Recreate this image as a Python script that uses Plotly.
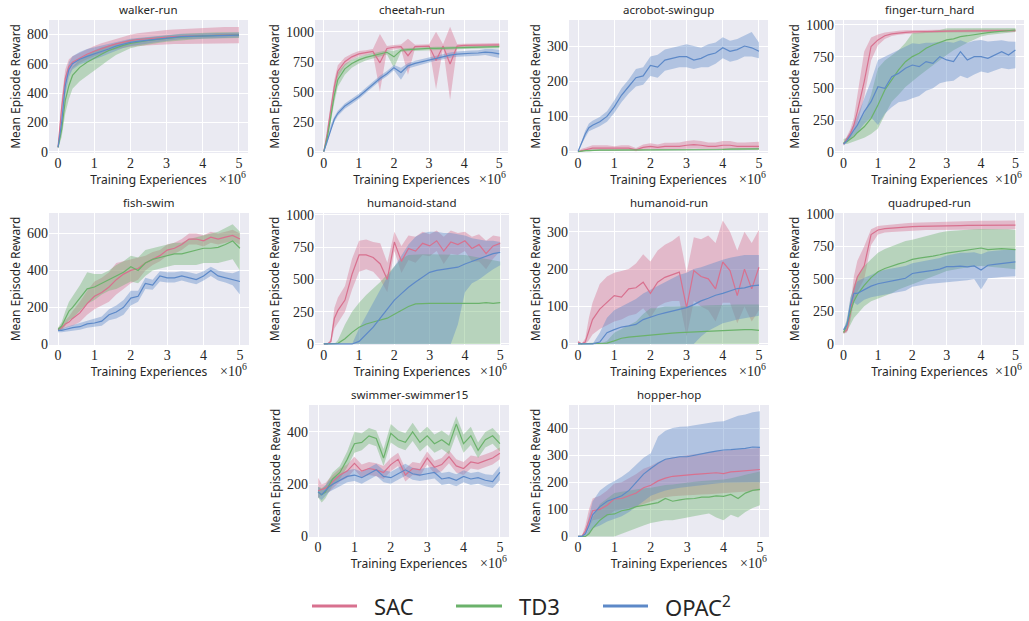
import plotly.graph_objects as go

W, H = 1029, 621

# ---------------- data (x in units of 1e6 training experiences) ----------------
X = [0, 0.1, 0.2, 0.3, 0.4, 0.6, 0.8, 1.0, 1.2, 1.4, 1.6, 1.8, 2.0, 2.2, 2.4,
     2.6, 2.8, 3.0, 3.2, 3.4, 3.6, 3.8, 4.0, 4.2, 4.4, 4.6, 4.8, 5.0]
X_TICKS = [0, 1, 2, 3, 4, 5]
ALGOS = ["SAC", "TD3", "OPAC<sup>2</sup>"]
TASKS = ["walker-run", "cheetah-run", "acrobot-swingup", "finger-turn_hard",
         "fish-swim", "humanoid-stand", "humanoid-run", "quadruped-run",
         "swimmer-swimmer15", "hopper-hop"]

walker_sac = [30, 300, 500, 580, 610, 640, 665, 685, 705, 720, 735, 748, 757, 765, 770, 775, 780, 783, 785, 787, 789, 790, 792, 793, 794, 795, 795, 795]
walker_sac_lo = [20, 240, 440, 530, 570, 605, 630, 650, 670, 685, 698, 708, 715, 720, 724, 727, 730, 732, 734, 735, 737, 738, 739, 740, 740, 740, 740, 740]
walker_sac_hi = [40, 360, 560, 630, 650, 675, 700, 720, 740, 755, 770, 785, 797, 807, 814, 820, 826, 830, 834, 837, 840, 842, 844, 846, 848, 850, 850, 850]
walker_td3 = [30, 150, 350, 450, 520, 575, 610, 640, 665, 690, 710, 725, 738, 748, 755, 762, 768, 773, 778, 782, 785, 788, 790, 792, 793, 794, 795, 795]
walker_td3_lo = [20, 100, 260, 360, 430, 480, 520, 555, 590, 625, 660, 685, 705, 718, 728, 736, 743, 750, 755, 760, 764, 767, 770, 772, 773, 774, 775, 775]
walker_td3_hi = [40, 200, 430, 530, 580, 630, 660, 690, 710, 725, 740, 755, 765, 772, 778, 784, 790, 795, 800, 803, 806, 809, 811, 813, 814, 815, 815, 815]
walker_opac = [30, 200, 450, 560, 600, 630, 650, 665, 680, 700, 720, 735, 745, 752, 758, 765, 772, 778, 782, 785, 787, 788, 790, 791, 792, 793, 794, 795]
walker_opac_lo = [20, 150, 390, 510, 560, 595, 615, 630, 648, 668, 690, 707, 720, 728, 735, 743, 750, 757, 762, 766, 769, 771, 773, 775, 776, 777, 778, 779]
walker_opac_hi = [40, 250, 510, 610, 650, 680, 700, 712, 722, 735, 750, 763, 770, 776, 781, 787, 793, 798, 802, 804, 805, 806, 807, 808, 809, 810, 811, 812]

cheetah_sac = [0, 150, 350, 540, 670, 750, 790, 815, 825, 835, 740, 860, 870, 875, 800, 875, 878, 880, 760, 880, 730, 880, 885, 886, 887, 888, 890, 890]
cheetah_sac_lo = [0, 110, 290, 480, 620, 715, 765, 792, 805, 815, 500, 840, 852, 858, 640, 860, 862, 865, 520, 862, 430, 862, 868, 870, 872, 873, 875, 875]
cheetah_sac_hi = [0, 190, 410, 600, 720, 785, 815, 838, 845, 855, 980, 880, 888, 892, 940, 890, 893, 895, 1000, 895, 1040, 897, 900, 902, 903, 904, 905, 905]
cheetah_td3 = [0, 120, 290, 470, 600, 690, 735, 765, 785, 800, 815, 828, 790, 845, 850, 855, 858, 860, 861, 862, 864, 866, 868, 870, 871, 872, 874, 875]
cheetah_td3_lo = [0, 90, 240, 410, 540, 640, 700, 735, 760, 778, 795, 810, 700, 830, 836, 842, 845, 848, 849, 850, 852, 854, 856, 858, 859, 860, 862, 862]
cheetah_td3_hi = [0, 150, 340, 530, 660, 730, 765, 790, 808, 822, 835, 846, 840, 860, 864, 868, 871, 873, 874, 875, 877, 879, 881, 883, 884, 885, 887, 888]
cheetah_opac = [0, 90, 200, 270, 320, 380, 420, 460, 510, 560, 610, 650, 700, 660, 715, 735, 750, 765, 780, 795, 805, 812, 818, 820, 822, 830, 825, 815]
cheetah_opac_lo = [0, 70, 178, 248, 298, 358, 398, 438, 488, 538, 588, 628, 678, 600, 693, 713, 728, 743, 758, 773, 783, 790, 796, 798, 800, 805, 790, 780]
cheetah_opac_hi = [0, 110, 222, 292, 342, 402, 442, 482, 532, 582, 632, 672, 722, 700, 737, 757, 772, 787, 802, 817, 827, 834, 840, 842, 844, 855, 855, 850]

acrobot_sac = [0, 3, 5, 8, 10, 10, 10, 8, 10, 10, 5, 12, 15, 12, 15, 15, 15, 18, 20, 18, 15, 15, 18, 18, 15, 15, 15, 15]
acrobot_sac_lo = [0, 0, 1, 3, 4, 4, 4, 3, 4, 4, 1, 5, 7, 5, 7, 7, 6, 8, 9, 8, 6, 6, 8, 8, 6, 6, 6, 6]
acrobot_sac_hi = [0, 8, 11, 15, 18, 18, 18, 15, 18, 18, 10, 20, 24, 20, 25, 25, 26, 30, 32, 30, 26, 26, 30, 30, 26, 26, 28, 28]
acrobot_td3 = [0, 2, 3, 3, 4, 4, 4, 4, 4, 4, 4, 4, 5, 5, 5, 5, 5, 5, 6, 6, 6, 6, 6, 7, 7, 7, 7, 8]
acrobot_td3_lo = [0, 1, 1, 1, 2, 2, 2, 2, 2, 2, 2, 2, 3, 3, 3, 3, 3, 3, 4, 4, 4, 4, 4, 4, 4, 4, 4, 5]
acrobot_td3_hi = [0, 3, 5, 5, 6, 6, 6, 6, 6, 6, 6, 6, 7, 7, 7, 7, 7, 7, 8, 8, 8, 8, 9, 10, 10, 10, 10, 11]
acrobot_opac = [0, 25, 50, 68, 75, 85, 100, 127, 160, 185, 210, 215, 245, 240, 260, 265, 270, 270, 260, 265, 275, 280, 295, 285, 290, 300, 295, 285]
acrobot_opac_lo = [0, 18, 40, 58, 62, 72, 85, 110, 140, 165, 185, 190, 215, 210, 230, 235, 240, 240, 235, 240, 240, 250, 265, 255, 260, 270, 270, 265]
acrobot_opac_hi = [0, 32, 60, 80, 88, 98, 115, 145, 180, 205, 235, 240, 270, 275, 290, 295, 300, 305, 300, 295, 305, 310, 325, 315, 320, 330, 340, 310]

finger_sac = [60, 100, 145, 210, 316, 553, 830, 882, 915, 930, 938, 942, 945, 945, 948, 950, 950, 951, 952, 952, 953, 953, 953, 954, 954, 955, 955, 955]
finger_sac_lo = [50, 80, 110, 160, 220, 430, 720, 840, 890, 912, 922, 928, 932, 932, 936, 938, 938, 940, 940, 941, 942, 942, 942, 943, 943, 944, 944, 944]
finger_sac_hi = [70, 120, 180, 270, 450, 790, 900, 925, 940, 950, 955, 958, 960, 960, 962, 963, 963, 963, 964, 964, 965, 965, 965, 965, 966, 966, 966, 966]
finger_td3 = [70, 80, 100, 120, 150, 197, 263, 368, 487, 566, 645, 710, 750, 776, 816, 842, 860, 882, 890, 908, 915, 925, 934, 940, 945, 950, 955, 960]
finger_td3_lo = [60, 60, 70, 80, 90, 110, 140, 184, 290, 395, 450, 510, 553, 600, 640, 680, 720, 763, 800, 830, 860, 885, 908, 920, 930, 935, 940, 945]
finger_td3_hi = [100, 110, 130, 160, 210, 300, 450, 658, 720, 763, 800, 860, 934, 940, 945, 950, 960, 973, 973, 973, 973, 973, 973, 973, 975, 975, 975, 975]
finger_opac = [60, 90, 130, 170, 210, 316, 395, 513, 500, 592, 618, 658, 684, 671, 711, 697, 750, 724, 711, 789, 724, 750, 750, 737, 763, 789, 763, 803]
finger_opac_lo = [50, 70, 100, 130, 150, 220, 270, 210, 300, 350, 390, 400, 421, 440, 480, 500, 540, 553, 560, 600, 580, 610, 632, 620, 640, 660, 650, 658]
finger_opac_hi = [70, 110, 160, 220, 280, 420, 560, 724, 750, 780, 800, 830, 855, 850, 860, 860, 868, 868, 860, 880, 860, 875, 882, 870, 875, 880, 870, 868]

fish_sac = [80, 90, 110, 120, 140, 170, 220, 260, 280, 310, 350, 380, 400, 410, 440, 460, 480, 510, 520, 540, 570, 570, 560, 580, 570, 580, 590, 570]
fish_sac_lo = [70, 75, 90, 95, 100, 120, 160, 190, 210, 230, 270, 300, 330, 350, 400, 430, 450, 480, 490, 510, 540, 540, 530, 550, 540, 550, 560, 540]
fish_sac_hi = [90, 105, 130, 150, 180, 230, 290, 340, 360, 390, 440, 450, 460, 470, 480, 500, 510, 540, 550, 570, 600, 600, 590, 610, 600, 610, 620, 600]
fish_td3 = [80, 100, 140, 180, 200, 250, 300, 310, 330, 350, 370, 390, 420, 400, 440, 460, 470, 480, 490, 490, 500, 510, 520, 520, 525, 540, 560, 520]
fish_td3_lo = [70, 80, 100, 130, 140, 180, 220, 240, 270, 290, 300, 320, 340, 330, 370, 400, 410, 420, 430, 430, 430, 430, 440, 440, 440, 450, 460, 400]
fish_td3_hi = [90, 120, 180, 230, 260, 320, 390, 380, 380, 400, 430, 450, 480, 470, 510, 520, 530, 540, 550, 550, 570, 580, 590, 600, 610, 630, 650, 610]
fish_opac = [75, 75, 80, 85, 90, 95, 110, 115, 125, 160, 175, 200, 250, 260, 330, 320, 370, 360, 360, 370, 360, 350, 370, 400, 370, 360, 350, 340]
fish_opac_lo = [65, 65, 68, 72, 75, 78, 90, 95, 100, 130, 140, 160, 210, 230, 300, 295, 340, 335, 335, 345, 335, 325, 345, 370, 345, 335, 320, 270]
fish_opac_hi = [85, 85, 92, 98, 105, 115, 130, 140, 150, 190, 210, 240, 290, 290, 360, 350, 395, 390, 390, 395, 390, 380, 395, 420, 400, 390, 385, 400]

hstand_sac = [0, 0, 20, 200, 260, 340, 540, 690, 690, 670, 620, 500, 790, 640, 740, 720, 780, 760, 800, 720, 790, 770, 800, 740, 770, 700, 760, 780]
hstand_sac_lo = [0, 0, 0, 120, 170, 250, 420, 560, 580, 560, 500, 400, 720, 550, 650, 630, 690, 680, 720, 620, 700, 690, 720, 640, 640, 580, 660, 720]
hstand_sac_hi = [0, 0, 40, 280, 360, 450, 660, 800, 810, 790, 780, 630, 870, 760, 840, 830, 870, 850, 880, 830, 880, 860, 870, 830, 850, 800, 840, 830]
hstand_td3 = [0, 0, 0, 0, 5, 40, 90, 130, 155, 170, 185, 200, 230, 260, 290, 310, 315, 315, 315, 315, 315, 315, 310, 315, 315, 320, 315, 320]
hstand_td3_lo = [0, 0, 0, 0, 0, 0, 0, 0, 0, 0, 0, 0, 0, 0, 0, 0, 0, 0, 0, 0, 0, 0, 0, 0, 0, 0, 0, 0]
hstand_td3_hi = [0, 0, 0, 0, 30, 150, 250, 320, 380, 430, 480, 540, 600, 660, 690, 695, 695, 695, 695, 695, 690, 690, 690, 680, 670, 660, 650, 640]
hstand_opac = [0, 0, 0, 0, 0, 0, 0, 20, 75, 130, 200, 270, 340, 390, 440, 480, 520, 555, 570, 580, 585, 595, 620, 640, 660, 680, 700, 710]
hstand_opac_lo = [0, 0, 0, 0, 0, 0, 0, 0, 0, 0, 0, 0, 0, 0, 0, 0, 0, 0, 0, 0, 0, 150, 400, 470, 500, 540, 580, 610]
hstand_opac_hi = [0, 0, 0, 0, 0, 0, 0, 120, 220, 320, 420, 520, 600, 680, 770, 830, 860, 870, 870, 860, 860, 850, 840, 820, 810, 800, 800, 790]

hrun_sac = [5, 0, 5, 35, 65, 93, 110, 129, 125, 147, 150, 165, 135, 165, 178, 185, 192, 97, 196, 180, 174, 147, 219, 196, 129, 200, 147, 205]
hrun_sac_lo = [0, 0, 0, 10, 25, 40, 50, 60, 65, 75, 80, 95, 70, 100, 110, 115, 115, 20, 115, 100, 90, 60, 110, 110, 55, 100, 60, 90]
hrun_sac_hi = [10, 0, 15, 70, 110, 160, 180, 190, 195, 200, 215, 240, 220, 250, 265, 275, 290, 190, 285, 280, 290, 270, 330, 300, 250, 300, 270, 305]
hrun_td3 = [0, 0, 0, 0, 0, 0, 2, 8, 15, 18, 20, 22, 25, 26, 28, 29, 30, 31, 32, 33, 35, 36, 36, 37, 38, 38, 38, 36]
hrun_td3_lo = [0, 0, 0, 0, 0, 0, 0, 0, 0, 0, 0, 0, 0, 0, 0, 0, 0, 0, 0, 0, 0, 0, 0, 0, 0, 0, 0, 0]
hrun_td3_hi = [0, 0, 0, 0, 0, 0, 8, 30, 40, 50, 60, 80, 95, 95, 100, 100, 100, 100, 100, 102, 103, 104, 105, 105, 105, 105, 105, 105]
hrun_opac = [0, 0, 0, 0, 0, 5, 30, 38, 45, 48, 52, 65, 72, 78, 83, 88, 93, 97, 105, 115, 122, 130, 135, 142, 148, 150, 155, 157]
hrun_opac_lo = [0, 0, 0, 0, 0, 0, 0, 0, 0, 0, 0, 0, 0, 0, 0, 0, 0, 0, 0, 20, 35, 45, 55, 60, 65, 70, 72, 75]
hrun_opac_hi = [0, 0, 0, 0, 0, 30, 70, 90, 100, 110, 120, 135, 145, 155, 165, 175, 185, 190, 200, 205, 212, 220, 225, 230, 235, 238, 238, 238]

quad_sac = [90, 110, 240, 420, 515, 600, 840, 875, 885, 890, 895, 898, 900, 902, 904, 905, 906, 907, 908, 909, 910, 910, 910, 911, 912, 912, 912, 912]
quad_sac_lo = [80, 90, 180, 330, 400, 500, 760, 840, 855, 860, 865, 868, 870, 872, 874, 875, 876, 877, 878, 879, 880, 880, 880, 880, 880, 880, 880, 880]
quad_sac_hi = [100, 130, 300, 520, 640, 750, 880, 905, 912, 918, 922, 926, 930, 932, 934, 935, 936, 937, 938, 940, 942, 944, 945, 946, 947, 948, 948, 948]
quad_td3 = [90, 150, 250, 330, 380, 450, 510, 555, 580, 600, 615, 630, 650, 660, 665, 675, 685, 698, 705, 712, 720, 730, 737, 725, 730, 732, 728, 724]
quad_td3_lo = [80, 100, 150, 200, 230, 290, 330, 350, 370, 390, 420, 440, 460, 480, 500, 520, 540, 560, 570, 580, 590, 595, 600, 595, 590, 585, 580, 575]
quad_td3_hi = [100, 200, 350, 450, 520, 600, 650, 700, 730, 750, 770, 790, 800, 815, 830, 845, 855, 865, 870, 875, 878, 880, 882, 882, 882, 882, 880, 875]
quad_opac = [110, 150, 300, 390, 390, 420, 445, 463, 475, 485, 495, 505, 542, 550, 555, 565, 575, 594, 595, 598, 592, 600, 568, 605, 612, 618, 625, 630]
quad_opac_lo = [100, 120, 240, 320, 300, 340, 360, 365, 380, 390, 400, 410, 440, 450, 460, 470, 475, 480, 480, 485, 490, 500, 420, 505, 510, 515, 520, 520]
quad_opac_hi = [120, 180, 360, 430, 480, 510, 530, 555, 570, 580, 590, 600, 620, 630, 640, 650, 660, 680, 690, 700, 700, 705, 690, 710, 715, 720, 725, 730]

swim_sac = [175, 180, 185, 195, 210, 235, 250, 280, 250, 260, 255, 245, 275, 295, 235, 260, 255, 300, 265, 275, 305, 270, 260, 285, 280, 290, 300, 318]
swim_sac_lo = [145, 160, 165, 170, 185, 210, 225, 255, 225, 235, 230, 220, 250, 270, 210, 235, 230, 275, 240, 250, 280, 245, 235, 260, 255, 265, 275, 295]
swim_sac_hi = [225, 200, 205, 220, 235, 260, 275, 305, 275, 285, 280, 270, 300, 320, 260, 285, 280, 325, 290, 300, 330, 295, 285, 310, 305, 315, 325, 340]
swim_td3 = [170, 160, 170, 195, 220, 245, 295, 355, 360, 385, 375, 300, 395, 370, 360, 400, 360, 385, 355, 370, 350, 430, 355, 385, 330, 370, 385, 355]
swim_td3_lo = [150, 130, 145, 170, 195, 220, 265, 320, 330, 355, 345, 270, 360, 340, 330, 365, 325, 350, 320, 335, 315, 390, 320, 350, 300, 340, 355, 325]
swim_td3_hi = [190, 185, 195, 220, 245, 270, 325, 400, 395, 415, 405, 335, 430, 405, 395, 435, 395, 420, 390, 405, 385, 460, 390, 420, 360, 400, 415, 385]
swim_opac = [170, 160, 175, 190, 200, 215, 230, 235, 225, 240, 255, 230, 225, 240, 255, 240, 235, 240, 245, 220, 225, 215, 230, 220, 225, 215, 210, 245]
swim_opac_lo = [150, 140, 155, 170, 178, 192, 207, 212, 202, 217, 232, 207, 202, 217, 232, 217, 212, 217, 222, 197, 202, 192, 207, 197, 202, 192, 185, 215]
swim_opac_hi = [190, 180, 195, 212, 222, 238, 253, 258, 248, 263, 278, 253, 248, 263, 278, 263, 258, 263, 268, 243, 248, 238, 253, 243, 248, 238, 235, 270]

hop_sac = [0, 0, 20, 60, 95, 100, 115, 139, 140, 150, 160, 180, 189, 205, 215, 222, 225, 226, 229, 231, 233, 235, 232, 238, 240, 243, 246, 247]
hop_sac_lo = [0, 0, 5, 30, 60, 65, 75, 95, 100, 105, 110, 120, 130, 138, 145, 148, 150, 152, 154, 155, 156, 157, 158, 160, 162, 165, 168, 170]
hop_sac_hi = [0, 0, 40, 100, 140, 150, 170, 195, 200, 215, 230, 250, 260, 275, 285, 292, 296, 300, 305, 308, 311, 314, 317, 319, 321, 323, 325, 326]
hop_td3 = [0, 0, 0, 10, 30, 60, 80, 83, 95, 100, 110, 115, 120, 125, 140, 130, 135, 139, 140, 145, 145, 150, 148, 155, 140, 160, 170, 174]
hop_td3_lo = [0, 0, 0, 0, 0, 0, 0, 0, 10, 20, 30, 40, 50, 55, 60, 60, 65, 70, 75, 80, 85, 70, 60, 80, 70, 90, 105, 115]
hop_td3_hi = [0, 0, 0, 30, 70, 120, 140, 160, 165, 170, 175, 178, 180, 185, 190, 192, 196, 200, 202, 205, 207, 208, 210, 215, 220, 228, 235, 240]
hop_opac = [0, 0, 10, 40, 80, 110, 130, 140, 150, 170, 200, 230, 251, 270, 285, 290, 294, 294, 300, 305, 310, 315, 319, 320, 322, 325, 330, 329]
hop_opac_lo = [0, 0, 0, 10, 30, 40, 55, 65, 75, 90, 110, 130, 150, 160, 170, 175, 180, 185, 188, 190, 192, 195, 198, 200, 200, 200, 200, 200]
hop_opac_hi = [0, 0, 20, 70, 130, 170, 190, 205, 220, 240, 265, 290, 307, 369, 390, 400, 405, 406, 410, 415, 420, 423, 425, 435, 445, 450, 458, 462]

Y_TICKS = {
    "walker-run": [0, 200, 400, 600, 800],
    "cheetah-run": [0, 250, 500, 750, 1000],
    "acrobot-swingup": [0, 100, 200, 300],
    "finger-turn_hard": [0, 250, 500, 750, 1000],
    "fish-swim": [0, 200, 400, 600],
    "humanoid-stand": [0, 250, 500, 750, 1000],
    "humanoid-run": [0, 100, 200, 300],
    "quadruped-run": [0, 250, 500, 750, 1000],
    "swimmer-swimmer15": [0, 200, 400],
    "hopper-hop": [0, 100, 200, 300, 400],
}

SERIES = {
    "walker-run": [(walker_sac, walker_sac_lo, walker_sac_hi), (walker_td3, walker_td3_lo, walker_td3_hi), (walker_opac, walker_opac_lo, walker_opac_hi)],
    "cheetah-run": [(cheetah_sac, cheetah_sac_lo, cheetah_sac_hi), (cheetah_td3, cheetah_td3_lo, cheetah_td3_hi), (cheetah_opac, cheetah_opac_lo, cheetah_opac_hi)],
    "acrobot-swingup": [(acrobot_sac, acrobot_sac_lo, acrobot_sac_hi), (acrobot_td3, acrobot_td3_lo, acrobot_td3_hi), (acrobot_opac, acrobot_opac_lo, acrobot_opac_hi)],
    "finger-turn_hard": [(finger_sac, finger_sac_lo, finger_sac_hi), (finger_td3, finger_td3_lo, finger_td3_hi), (finger_opac, finger_opac_lo, finger_opac_hi)],
    "fish-swim": [(fish_sac, fish_sac_lo, fish_sac_hi), (fish_td3, fish_td3_lo, fish_td3_hi), (fish_opac, fish_opac_lo, fish_opac_hi)],
    "humanoid-stand": [(hstand_sac, hstand_sac_lo, hstand_sac_hi), (hstand_td3, hstand_td3_lo, hstand_td3_hi), (hstand_opac, hstand_opac_lo, hstand_opac_hi)],
    "humanoid-run": [(hrun_sac, hrun_sac_lo, hrun_sac_hi), (hrun_td3, hrun_td3_lo, hrun_td3_hi), (hrun_opac, hrun_opac_lo, hrun_opac_hi)],
    "quadruped-run": [(quad_sac, quad_sac_lo, quad_sac_hi), (quad_td3, quad_td3_lo, quad_td3_hi), (quad_opac, quad_opac_lo, quad_opac_hi)],
    "swimmer-swimmer15": [(swim_sac, swim_sac_lo, swim_sac_hi), (swim_td3, swim_td3_lo, swim_td3_hi), (swim_opac, swim_opac_lo, swim_opac_hi)],
    "hopper-hop": [(hop_sac, hop_sac_lo, hop_sac_hi), (hop_td3, hop_td3_lo, hop_td3_hi), (hop_opac, hop_opac_lo, hop_opac_hi)],
}

for task, group in SERIES.items():
    for trip in group:
        for arr in trip:
            assert len(arr) == len(X), task

# ---------------- layout / style ----------------
# plot-area boxes in pixels (left, right, top, bottom)
BOX = {
    "walker-run": (49, 248, 20, 153),
    "cheetah-run": (315, 508, 20, 153),
    "acrobot-swingup": (569, 768, 20, 153),
    "finger-turn_hard": (835, 1024, 20, 153),
    "fish-swim": (49, 249, 213, 345),
    "humanoid-stand": (315, 509, 213, 345),
    "humanoid-run": (569, 768, 213, 345),
    "quadruped-run": (835, 1024, 213, 345),
    "swimmer-swimmer15": (309, 509, 405, 537),
    "hopper-hop": (569, 769, 405, 537),
}
Y_RANGE = {
    "walker-run": [-9, 898],
    "cheetah-run": [-11, 1097],
    "acrobot-swingup": [-4, 374],
    "finger-turn_hard": [-10, 1039],
    "fish-swim": [-4, 711],
    "humanoid-stand": [-8, 1015],
    "humanoid-run": [-3, 350],
    "quadruped-run": [-6, 1005],
    "swimmer-swimmer15": [-2, 503],
    "hopper-hop": [-2, 485],
}


def fx(p):
    return p / W


def fy(p):
    return 1 - p / H


LINE_COLORS = ["#D8718F", "#6BB26B", "#5D89C8"]
FILL_COLORS = ["rgba(216,113,143,0.40)", "rgba(107,178,107,0.40)", "rgba(93,137,200,0.40)"]
TEXT = "#262626"
SANS = "Noto Sans, Open Sans, DejaVu Sans, sans-serif"
SERIF = "Liberation Serif, DejaVu Serif, serif"

fig = go.Figure()
annotations = []
shapes = []
layout_axes = {}

for i, task in enumerate(TASKS):
    n = i + 1
    sfx = "" if n == 1 else str(n)
    xref, yref = "x" + sfx, "y" + sfx
    # bands first (beneath all lines), then mean lines
    for k, (mean, lo, hi) in enumerate(SERIES[task]):
        fig.add_trace(go.Scatter(
            x=X + X[::-1], y=hi + lo[::-1], fill="toself", fillcolor=FILL_COLORS[k],
            line=dict(width=0), mode="lines", hoverinfo="skip", showlegend=False,
            xaxis=xref, yaxis=yref))
    for k, (mean, lo, hi) in enumerate(SERIES[task]):
        fig.add_trace(go.Scatter(
            x=X, y=mean, mode="lines", line=dict(color=LINE_COLORS[k], width=1.2),
            name=ALGOS[k], showlegend=False, xaxis=xref, yaxis=yref))

    l, r, t, b = BOX[task]
    layout_axes["xaxis" + sfx] = dict(
        domain=[fx(l), fx(r)], anchor=yref, range=[-0.25, 5.25],
        tickvals=X_TICKS, ticktext=[str(v) for v in X_TICKS],
        showgrid=True, gridcolor="white", gridwidth=1, zeroline=False,
        showline=False, ticks="", ticklen=0, automargin=False,
        tickfont=dict(family=SERIF, size=14, color=TEXT),
        title=dict(text="Training Experiences", standoff=0,
                   font=dict(family=SANS, size=12, color=TEXT)))
    layout_axes["yaxis" + sfx] = dict(
        domain=[fy(b), fy(t)], anchor=xref, range=Y_RANGE[task],
        tickvals=Y_TICKS[task], ticktext=[str(v) for v in Y_TICKS[task]],
        showgrid=True, gridcolor="white", gridwidth=1, zeroline=False,
        showline=False, ticks="", ticklen=0, automargin=False,
        tickfont=dict(family=SERIF, size=14, color=TEXT),
        title=dict(text="Mean Episode Reward", standoff=3,
                   font=dict(family=SANS, size=12, color=TEXT)))

    annotations.append(dict(
        text=task, x=fx((l + r) / 2), y=fy(t), xref="paper", yref="paper",
        xanchor="center", yanchor="bottom", yshift=1, showarrow=False,
        font=dict(family=SANS, size=11.5, color=TEXT)))
    annotations.append(dict(
        text="×10<sup>6</sup>", x=fx(r), y=fy(b), xref="paper", yref="paper",
        xanchor="right", yanchor="top", yshift=-14, showarrow=False,
        font=dict(family=SERIF, size=14, color=TEXT)))

# legend (drawn as key lines + labels along the bottom)
LEGEND_Y = 606
LEGEND_KEYS = [(312, 357), (456, 502), (603, 648)]
for k, (x0, x1) in enumerate(LEGEND_KEYS):
    shapes.append(dict(type="line", xref="paper", yref="paper",
                       x0=fx(x0), x1=fx(x1), y0=fy(LEGEND_Y), y1=fy(LEGEND_Y),
                       line=dict(color=LINE_COLORS[k], width=3)))
    annotations.append(dict(
        text=ALGOS[k], x=fx(x1 + 15), y=fy(LEGEND_Y), xref="paper", yref="paper",
        xanchor="left", yanchor="middle", showarrow=False,
        font=dict(family=SANS, size=22, color=TEXT)))

fig.update_layout(
    width=W, height=H,
    margin=dict(l=0, r=0, t=0, b=0, autoexpand=False),
    paper_bgcolor="white", plot_bgcolor="#EAEAF2",
    showlegend=False,
    annotations=annotations,
    shapes=shapes,
    **layout_axes,
)

# remove the page's default 8px body margin so the figure sits at the window origin
fig.write_html("out.html", config={"displayModeBar": False},
               post_script="document.body.style.margin='0px';")
